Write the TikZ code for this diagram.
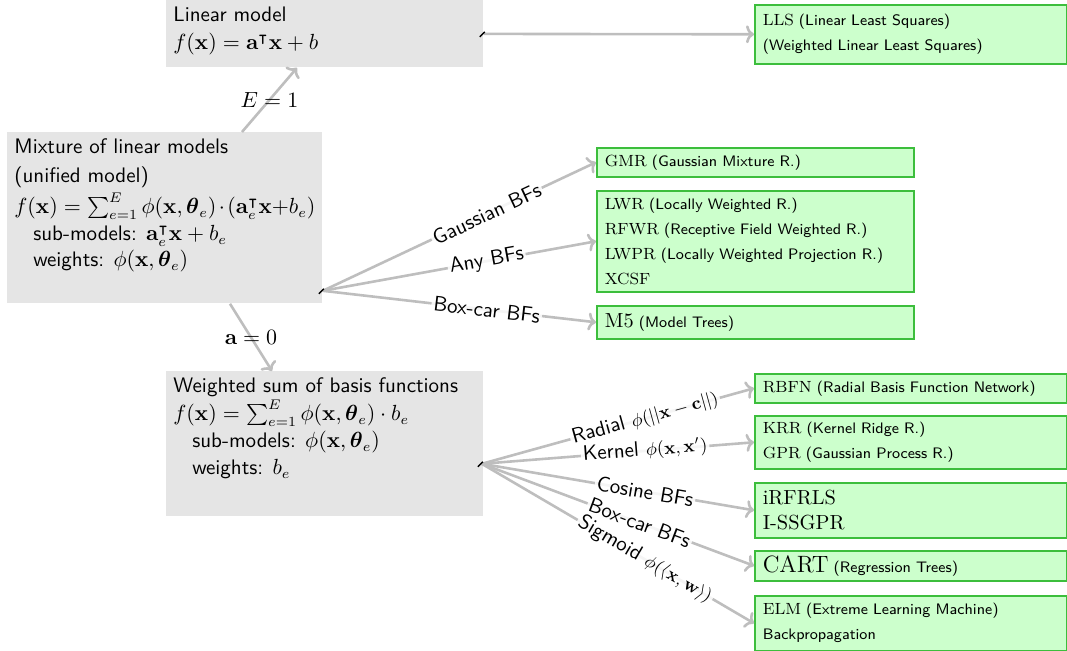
\documentclass[tikz,border=0pt]{standalone}
\usepackage{amsmath,amssymb}
\usetikzlibrary{arrows.meta,calc}
\definecolor{boxgray}{gray}{0.9}
\definecolor{lgreen}{RGB}{204,255,204}
\definecolor{dgreen}{RGB}{60,190,60}
\definecolor{arrgray}{RGB}{190,190,190}
\newcommand{\acrn}[1]{{\rmfamily\fontsize{8.1}{12.5}\selectfont #1}}
\newcommand{\bigacr}[1]{{\rmfamily\fontsize{10.2}{13}\selectfont #1}}
\newcommand{\hugeacr}[1]{{\rmfamily\fontsize{11.8}{13}\selectfont #1}}
\newcommand{\smath}[1]{{\fontsize{8.8}{10}\selectfont #1}}
\newcommand{\gcontent}[3]{\parbox[c][#1][t]{#2}{\raggedright #3}}
\begin{document}
\begin{tikzpicture}[x=0.5pt,y=-0.5pt,
  graybox/.style={fill=boxgray, anchor=north west, inner xsep=3.5pt, inner ysep=3.3pt,
    font=\sffamily\fontsize{10.5}{13.5}\selectfont},
  greenbox/.style={fill=lgreen, draw=dgreen, line width=0.8pt, anchor=north west,
    inner xsep=4pt, inner ysep=0pt, align=left, font=\sffamily\fontsize{7.6}{12.5}\selectfont},
  conn/.style={draw=arrgray, line width=1.3pt, -{To[length=4pt,width=9pt]}},
  blab/.style={sloped, pos=0.6, fill=white, fill opacity=0.85, text opacity=1,
    inner sep=1pt, font=\sffamily\fontsize{10.5}{12}\selectfont},
  plab/.style={pos=0.5, inner sep=0pt, font=\fontsize{10.5}{12}\selectfont},
  stub/.style={draw=black, line width=0.7pt}]
\useasboundingbox (0,0) rectangle (1067,651);

% gray boxes
\node[graybox] (lin) at (166,0)
  {\gcontent{26.9pt}{151.5pt}{\fontsize{10.5}{14}\selectfont Linear model\\
   $f(\mathbf{x}) = \mathbf{a}^{\intercal}\mathbf{x} + b$}};
\node[graybox] (mix) at (7,132)
  {\gcontent{78.9pt}{150.5pt}{\fontsize{10.5}{13}\selectfont Mixture of linear models\\[1.5pt]
   (unified model)\\[2.5pt]
   $f(\mathbf{x}) = \sum_{e=1}^{E}\phi(\mathbf{x},\boldsymbol{\theta}_e)\cdot(\mathbf{a}_e^{\intercal}\mathbf{x}{+}b_e)$\\[0.5pt]
   \hspace*{0.9em}sub-models: $\mathbf{a}_e^{\intercal}\mathbf{x}+b_e$\\
   \hspace*{0.9em}weights: $\phi(\mathbf{x},\boldsymbol{\theta}_e)$}};
\node[graybox] (ws) at (166,371)
  {\gcontent{65.9pt}{151.5pt}{\fontsize{10.5}{13.5}\selectfont Weighted sum of basis functions\\[0.5pt]
   $f(\mathbf{x}) = \sum_{e=1}^{E}\phi(\mathbf{x},\boldsymbol{\theta}_e)\cdot b_e$\\
   \hspace*{0.9em}sub-models: $\phi(\mathbf{x},\boldsymbol{\theta}_e)$\\
   \hspace*{0.9em}weights: $b_e$}};

% green boxes
\node[greenbox, text width=148pt, minimum height=29.5pt] (lls) at (754,4)
  {\acrn{LLS} (Linear Least Squares)\\ (Weighted Linear Least Squares)};
\node[greenbox, text width=150.5pt, minimum height=14.5pt] (gmr) at (596,147)
  {\acrn{GMR} (Gaussian Mixture R.)};
\node[greenbox, text width=150.5pt, minimum height=50.5pt] (lwr) at (596,190)
  {\acrn{LWR} (Locally Weighted R.)\\
   \acrn{RFWR} (Receptive Field Weighted R.)\\
   \acrn{LWPR} (Locally Weighted Projection R.)\\
   \acrn{XCSF}};
\node[greenbox, text width=150.5pt, minimum height=16.5pt] (m5) at (596,305)
  {\bigacr{M5} (Model Trees)};
\node[greenbox, text width=148pt, minimum height=14.5pt] (rbfn) at (754,373)
  {\acrn{RBFN} (Radial Basis Function Network)};
\node[greenbox, text width=148pt, minimum height=26.5pt] (krr) at (754,415)
  {\acrn{KRR} (Kernel Ridge R.)\\ \acrn{GPR} (Gaussian Process R.)};
\node[greenbox, text width=148pt, minimum height=27.5pt] (irf) at (754,482)
  {\bigacr{iRFRLS}\\ \bigacr{I-SSGPR}};
\node[greenbox, text width=148pt, minimum height=15pt] (cart) at (754,550)
  {\hugeacr{CART} (Regression Trees)};
\node[greenbox, text width=148pt, minimum height=27.5pt] (elm) at (754,595)
  {\acrn{ELM} (Extreme Learning Machine)\\ Backpropagation};

% named connector ends
\coordinate (mixtop) at ($(mix.north west)+(235,0)$);
\coordinate (linbot) at ($(lin.south west)+(131,0)$);
\coordinate (mixbot) at ($(mix.south west)+(223,0)$);
\coordinate (wstop) at ($(ws.north west)+(106,0)$);
\coordinate (mixout) at ($(mix.south east)+(0,-13)$);
\coordinate (wsout) at ($(ws.south east)+(-2,-53)$);

% connectors
\draw[conn] (mixtop) -- node[plab]{$E=1$} (linbot);
\draw[conn] (mixbot) -- node[plab]{$\mathbf{a}=0$} (wstop);
\draw[conn] (lin.east) -- (lls.west);

\draw[conn] (mixout) -- node[blab]{Gaussian BFs} (gmr.west);
\draw[conn] (mixout) -- node[blab]{Any BFs} (lwr.west);
\draw[conn] (mixout) -- node[blab]{Box-car BFs} (m5.west);

\draw[conn] (wsout) -- node[blab]{Radial \smath{$\phi(||\mathbf{x}-\mathbf{c}||)$}} (rbfn.west);
\draw[conn] (wsout) -- node[blab]{Kernel \smath{$\phi(\mathbf{x},\mathbf{x}')$}} (krr.west);
\draw[conn] (wsout) -- node[blab]{Cosine BFs} (irf.west);
\draw[conn] (wsout) -- node[blab, pos=0.58]{Box-car BFs} (cart.west);
\draw[conn] (wsout) -- node[blab]{Sigmoid \smath{$\phi(\langle\mathbf{x},\mathbf{w}\rangle)$}} (elm.west);

% small black stubs at branch origins
\draw[stub] ($(lin.east)+(-4,3)$) -- ($(lin.east)+(1,-2)$);
\draw[stub] ($(mixout)+(-4,3)$) -- ($(mixout)+(1,-2)$);
\draw[stub] ($(wsout)+(-4,3)$) -- ($(wsout)+(1,-2)$);
\end{tikzpicture}
\end{document}
